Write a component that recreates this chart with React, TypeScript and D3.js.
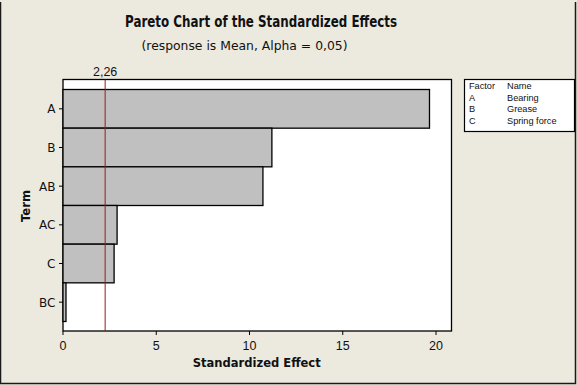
import React from "react";
import * as d3 from "d3";

const terms = ["A", "B", "AB", "AC", "C", "BC"];
const effects = [19.65, 11.2, 10.72, 2.9, 2.74, 0.16];
const xTicks = [0, 5, 10, 15, 20];
const critical = 2.26;
const criticalLabel = "2,26";
const legendFactors = ["A", "B", "C"];
const legendNames = ["Bearing", "Grease", "Spring force"];

const W = 577;
const H = 385;
const FONT_T = "'DejaVu Sans', Verdana, sans-serif";
const FONT_N = "'Liberation Sans', Arial, sans-serif";

export default function App() {
  const plot = { left: 63, right: 451.5, top: 79.5, bottom: 331 };
  const x = d3.scaleLinear().domain([0, 20.83]).range([plot.left, plot.right]);
  const y = d3
    .scaleBand<string>()
    .domain(terms)
    .range([89.5, 321.5])
    .padding(0);

  return (
    <svg
      width={W}
      height={H}
      style={{ position: "absolute", left: 0, top: 0, fontFamily: FONT_T }}
    >
      <rect x={0} y={0} width={W} height={H} fill="#ECE9DF" />
      <path d={`M0.5,2 V383.5 H575.5 V2`} fill="none" stroke="#1a1a1a" strokeWidth={1.5} />

      <text
        x={261}
        y={26.5}
        textAnchor="middle"
        fontSize={15.5}
        fontWeight="bold"
        fill="#111"
        textLength={272}
        lengthAdjust="spacingAndGlyphs"
      >
        Pareto Chart of the Standardized Effects
      </text>
      <text
        x={244.5}
        y={50}
        textAnchor="middle"
        fontSize={12.5}
        fill="#111"
        textLength={206}
        lengthAdjust="spacingAndGlyphs"
      >
        (response is Mean, Alpha = 0,05)
      </text>

      <rect
        x={plot.left}
        y={plot.top}
        width={plot.right - plot.left}
        height={plot.bottom - plot.top}
        fill="#FFFFFF"
        stroke="#000"
        strokeWidth={1.3}
      />

      {terms.map((t, i) => (
        <rect
          key={t}
          x={x(0)}
          y={y(t)!}
          width={x(effects[i]) - x(0)}
          height={y.bandwidth()}
          fill="#C0C0C0"
          stroke="#000"
          strokeWidth={1.3}
        />
      ))}

      <line
        x1={x(critical)}
        x2={x(critical)}
        y1={plot.top}
        y2={plot.bottom}
        stroke="#A01818"
        strokeWidth={1}
      />
      <text x={x(critical)} y={75.5} textAnchor="middle" fontSize={12.5} fill="#111" fontFamily={FONT_N}>
        {criticalLabel}
      </text>

      {terms.map((t) => {
        const cy = y(t)! + y.bandwidth() / 2;
        return (
          <g key={"yt" + t}>
            <line x1={plot.left - 4} x2={plot.left} y1={cy} y2={cy} stroke="#000" strokeWidth={1} />
            <text x={plot.left - 7.5} y={cy + 4.5} textAnchor="end" fontSize={12} fill="#111">
              {t}
            </text>
          </g>
        );
      })}

      {xTicks.map((v) => (
        <g key={"xt" + v}>
          <line x1={x(v)} x2={x(v)} y1={plot.bottom} y2={plot.bottom + 4} stroke="#000" strokeWidth={1} />
          <text x={x(v)} y={349.5} textAnchor="middle" fontSize={12.5} fill="#111" fontFamily={FONT_N}>
            {v}
          </text>
        </g>
      ))}

      <text
        x={256.7}
        y={366.5}
        textAnchor="middle"
        fontSize={12.5}
        fontWeight="bold"
        fill="#111"
        textLength={128}
        lengthAdjust="spacingAndGlyphs"
      >
        Standardized Effect
      </text>
      <text
        transform={`translate(29.5,206) rotate(-90)`}
        textAnchor="middle"
        fontSize={12.5}
        fontWeight="bold"
        fill="#111"
        textLength={32}
        lengthAdjust="spacingAndGlyphs"
      >
        Term
      </text>

      <rect x={464.5} y={79.5} width={110} height={52} fill="#FFFFFF" stroke="#000" strokeWidth={1.2} />
      <g fontFamily={FONT_N} fontSize={9.2} fill="#111">
        <text x={469} y={88.7}>Factor</text>
        <text x={507} y={88.7}>Name</text>
        {legendFactors.map((f, i) => (
          <g key={"lg" + f}>
            <text x={469} y={100.5 + i * 11.6}>{f}</text>
            <text x={507} y={100.5 + i * 11.6}>{legendNames[i]}</text>
          </g>
        ))}
      </g>
    </svg>
  );
}
